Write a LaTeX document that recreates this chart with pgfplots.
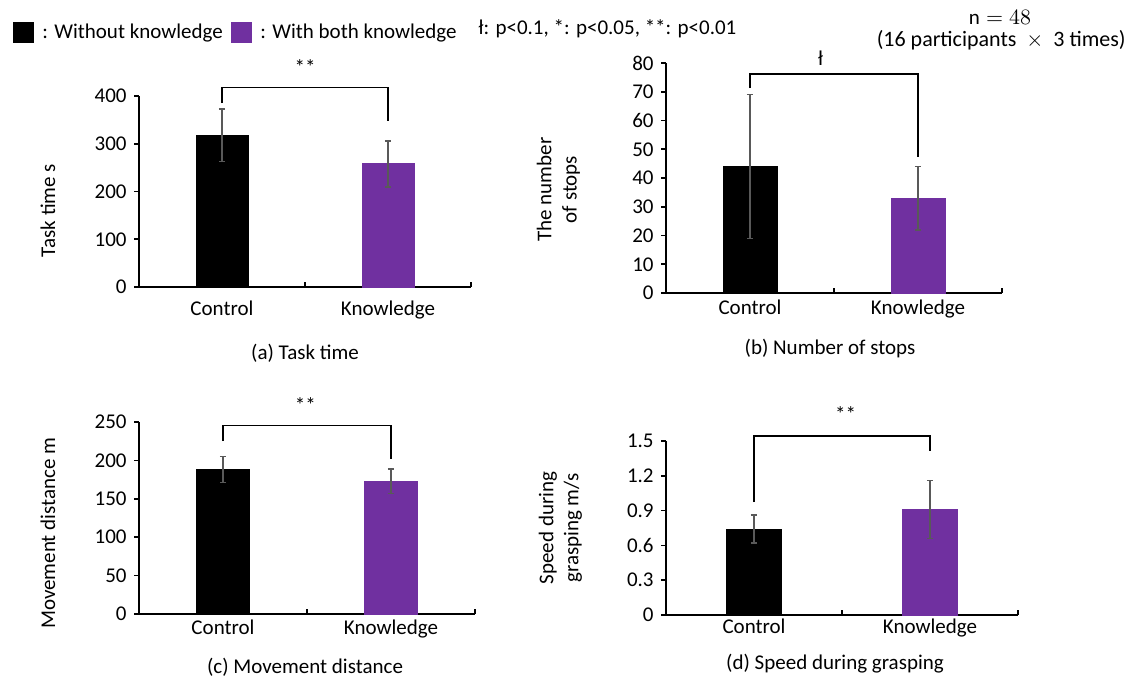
\documentclass[border=0pt]{standalone}
\usepackage{fontspec}
\setmainfont{Carlito}
\usepackage{pgfplots}
\pgfplotsset{compat=1.18}
\definecolor{kpurple}{HTML}{7030A0}
\definecolor{errgray}{HTML}{595959}
\tikzset{bracket/.style={line width=0.6pt, black}}
\pgfplotsset{
  panel/.style={
    scale only axis, anchor=south west,
    axis x line=bottom, axis y line=left,
    axis line style={-, line width=1pt},
    xmin=-0.5, xmax=1.5, ymin=0,
    xtick={0,1}, xticklabels={Control,Knowledge},
    xtick style={draw=none},
    tick align=outside, major tick length=2.5pt,
    ytick style={line width=0.8pt, black},
    /pgf/number format/assume math mode=true,
    scaled y ticks=false,
    yticklabel style={/pgf/number format/fixed},
    ybar, bar shift=0pt,
    clip=false,
    error bars/y dir=both, error bars/y explicit,
    error bars/error bar style={color=errgray, line width=0.8pt},
    error bars/error mark options={rotate=90, color=errgray, line width=0.8pt, mark size=1.6pt},
  },
}
\begin{document}
\fontsize{10.5}{12.6}\selectfont
\begin{tikzpicture}
\useasboundingbox (0pt,0pt) rectangle (563.5pt,-338.5pt);

% (a) Task time
\begin{axis}[panel, at={(69.5pt,-143.5pt)}, width=166pt, height=95.5pt,
  bar width=26pt, ymax=400, ytick={0,100,200,300,400},
  xticklabel style={yshift=-1pt},
  ylabel={Task time s},
  every axis y label/.style={at={(axis description cs:-0.274,0.4)}, rotate=90, anchor=center}]
\addplot[fill=black, draw=black] coordinates {(0,318) +- (0,55)};
\addplot[fill=kpurple, draw=kpurple] coordinates {(1,258) +- (0,48)};
\draw[bracket] (axis cs:0,385) -- (axis cs:0,417) -- (axis cs:1,417) -- (axis cs:1,348);
\node[anchor=base, inner sep=0pt] at (axis cs:0.5,446) {**};
\draw[line width=0.8pt] (axis cs:0.5,0) -- ++(0pt,2.5pt);
\draw[line width=0.8pt] (axis cs:1.5,0) -- ++(0pt,2.5pt);
\end{axis}

% (b) Number of stops
\begin{axis}[panel, at={(333pt,-146.5pt)}, width=168pt, height=115pt,
  bar width=27pt, ymax=80, ytick={0,10,20,30,40,50,60,70,80},
  xticklabel style={yshift=2.5pt},
  ylabel={The number\\of stops},
  every axis y label/.style={at={(axis description cs:-0.32,0.45)}, rotate=90, anchor=center, align=center}]
\addplot[fill=black, draw=black] coordinates {(0,44) +- (0,25)};
\addplot[fill=kpurple, draw=kpurple] coordinates {(1,33) +- (0,11)};
\draw[bracket] (axis cs:0,71.3) -- (axis cs:0,76.2) -- (axis cs:1,76.2) -- (axis cs:1,47.3);
\node[anchor=base, inner sep=0pt] at (axis cs:0.42,79) {ł};
\draw[line width=0.8pt] (axis cs:0.5,0) -- ++(0pt,2.5pt);
\draw[line width=0.8pt] (axis cs:1.5,0) -- ++(0pt,2.5pt);
\end{axis}

% (c) Movement distance
\begin{axis}[panel, at={(69.5pt,-307pt)}, width=168pt, height=96pt,
  bar width=26.5pt, ymax=250, ytick={0,50,100,150,200,250},
  xticklabel style={yshift=3.5pt},
  ylabel={Movement distance m},
  every axis y label/.style={at={(axis description cs:-0.271,0.42)}, rotate=90, anchor=center}]
\addplot[fill=black, draw=black] coordinates {(0,188) +- (0,17)};
\addplot[fill=kpurple, draw=kpurple] coordinates {(1,173) +- (0,16)};
\draw[bracket] (axis cs:0,225) -- (axis cs:0,245) -- (axis cs:1,245) -- (axis cs:1,202);
\node[anchor=base, inner sep=0pt] at (axis cs:0.49,262) {**};
\draw[line width=0.8pt] (axis cs:0.5,0) -- ++(0pt,2.5pt);
\draw[line width=0.8pt] (axis cs:1.5,0) -- ++(0pt,2.5pt);
\end{axis}

% (d) Speed during grasping
\begin{axis}[panel, at={(333pt,-307.5pt)}, width=176pt, height=87pt,
  bar width=27.5pt, ymax=1.5, ytick={0,0.3,0.6,0.9,1.2,1.5},
  yticklabel style={/pgf/number format/.cd, fixed, precision=1},
  xticklabel style={yshift=4.5pt},
  ylabel={Speed during\\grasping m/s},
  every axis y label/.style={at={(axis description cs:-0.30,0.5)}, rotate=90, anchor=center, align=center}]
\addplot[fill=black, draw=black] coordinates {(0,0.74) +- (0,0.12)};
\addplot[fill=kpurple, draw=kpurple] coordinates {(1,0.91) +- (0,0.25)};
\draw[bracket] (axis cs:0,0.974) -- (axis cs:0,1.543) -- (axis cs:1,1.543) -- (axis cs:1,1.414);
\node[anchor=base, inner sep=0pt] at (axis cs:0.52,1.672) {**};
\draw[line width=0.8pt] (axis cs:0.5,0) -- ++(0pt,2.5pt);
\draw[line width=0.8pt] (axis cs:1.5,0) -- ++(0pt,2.5pt);
\end{axis}

\begin{scope}[x=0.5pt, y=-0.5pt]
% legend
\fill[black] (13,22) rectangle (34,43);
\node[anchor=base west, inner sep=0pt] at (42,38) {: Without knowledge};
\fill[kpurple] (231,22) rectangle (252,43);
\node[anchor=base west, inner sep=0pt] at (260,38) {: With both knowledge};
\node[anchor=base west, inner sep=0pt] at (478,34) {ł: p<0.1, *: p<0.05, **: p<0.01};
\node[anchor=base, inner sep=0pt] at (1000,24) {$\mathrm{n}=48$};
\node[anchor=base east, inner sep=0pt] at (1126,46) {\fontsize{11}{13}\selectfont (16 participants~~$\times$~~3 times)};
% titles
\node at (305,353) {(a) Task time};
\node at (830,348) {(b) Number of stops};
\node at (305,667) {(c) Movement distance};
\node at (835,664) {(d) Speed during grasping};
\end{scope}
\end{tikzpicture}
\end{document}
